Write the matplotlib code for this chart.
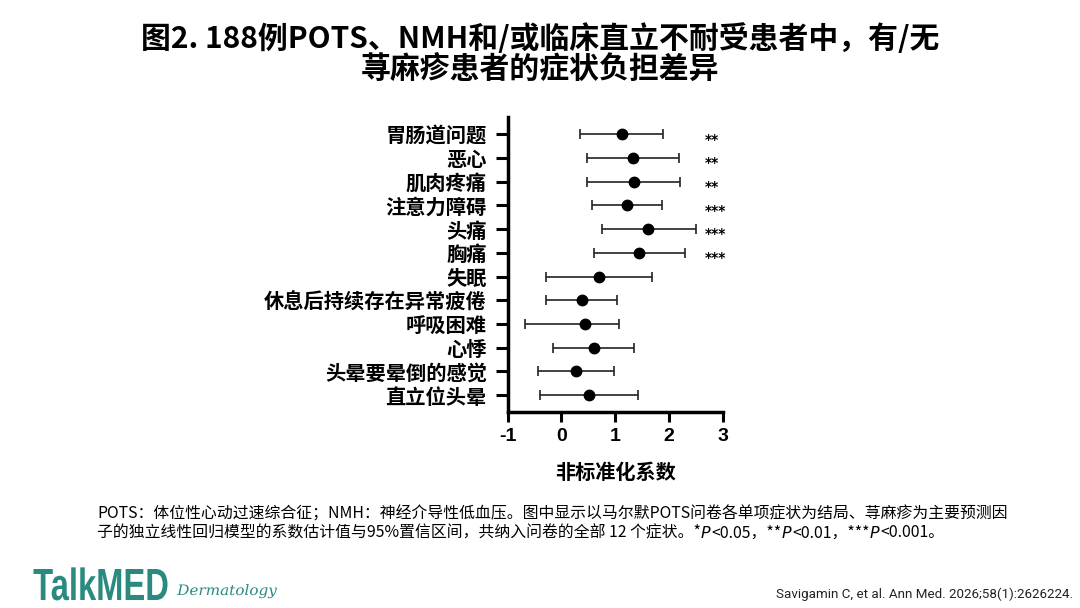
import numpy as np
import matplotlib
matplotlib.use('Agg')
import matplotlib.pyplot as plt
from matplotlib.textpath import TextPath
from matplotlib.patches import PathPatch
from matplotlib.font_manager import FontProperties
from matplotlib.transforms import Affine2D

plt.rcParams['font.family'] = ['Noto Sans CJK SC', 'DejaVu Sans']

symptoms = ['胃肠道问题', '恶心', '肌肉疼痛', '注意力障碍', '头痛', '胸痛', '失眠',
            '休息后持续存在异常疲倦', '呼吸困难', '心悸', '头晕要晕倒的感觉', '直立位头晕']
coef = [1.12, 1.33, 1.35, 1.23, 1.62, 1.45, 0.71, 0.38, 0.44, 0.61, 0.27, 0.52]
ci_low = [0.35, 0.47, 0.48, 0.58, 0.75, 0.61, -0.29, -0.28, -0.67, -0.15, -0.44, -0.39]
ci_high = [1.89, 2.19, 2.21, 1.88, 2.50, 2.30, 1.68, 1.03, 1.07, 1.36, 0.98, 1.42]
stars = ['**', '**', '**', '***', '***', '***', '', '', '', '', '', '']
xticks = [-1, 0, 1, 2, 3]

teal = '#2b8a80'
W, H = 1080, 608


def draw_word(fig, s, x0, y_base, width_px, cap_px, prop, color, cap_char):
    # draw text as a path scaled to a given width and cap height (pixels)
    tp = TextPath((0, 0), s, size=100, prop=prop)
    bb = tp.get_extents()
    cap = TextPath((0, 0), cap_char, size=100, prop=prop).get_extents()
    sx = width_px / bb.width
    sy = cap_px / cap.y1
    tr = Affine2D().translate(-bb.x0, 0).scale(sx, sy).translate(x0, H - y_base)
    fig.add_artist(PathPatch(tp, transform=tr, facecolor=color, edgecolor='none'))


fig = plt.figure(figsize=(10.8, 6.08), dpi=100)
ax = fig.add_axes([0.470, 0.3229, 0.199, 0.4847])

y = np.arange(len(symptoms))
coef = np.array(coef)
err = [coef - np.array(ci_low), np.array(ci_high) - coef]
ax.errorbar(coef, y, xerr=err, fmt='o', color='black', ecolor='#222222',
            elinewidth=1.2, capsize=3.5, capthick=1.2, markersize=7.5)

for yi, s in zip(y, stars):
    if s:
        ax.text(2.67, yi + 0.22, s, fontsize=10, fontweight='bold',
                ha='left', va='center', family='DejaVu Sans')

ax.set_xlim(-1, 3)
ax.set_ylim(11.7, -0.73)
ax.set_xticks(xticks)
ax.set_xticklabels([str(t) for t in xticks], fontsize=14, fontweight='bold',
                   family='Liberation Sans')
ax.set_yticks(y)
ax.set_yticklabels(symptoms, fontsize=14.6, fontweight='bold')
ax.tick_params(axis='x', length=7, width=2.2, pad=5)
ax.tick_params(axis='y', length=9, width=2.2, pad=6)
for side in ['top', 'right']:
    ax.spines[side].set_visible(False)
for side in ['left', 'bottom']:
    ax.spines[side].set_linewidth(2.5)
ax.set_xlabel('非标准化系数', fontsize=14.5, fontweight='bold', labelpad=12)

fig.text(0.5, 0.937, '图2. 188例POTS、NMH和/或临床直立不耐受患者中，有/无',
         ha='center', va='center', fontsize=21.5, fontweight='bold')
fig.text(0.5, 0.885, '荨麻疹患者的症状负担差异',
         ha='center', va='center', fontsize=21.5, fontweight='bold')

# footnote, second line has italic P
fn_size = 11.4
fig.text(97 / W, 1 - 514 / H,
         'POTS：体位性心动过速综合征；NMH：神经介导性低血压。图中显示以马尔默POTS问卷各单项症状为结局、荨麻疹为主要预测因',
         ha='left', va='center', fontsize=fn_size)
pieces = [('子的独立线性回归模型的系数估计值与95%置信区间，共纳入问卷的全部 12 个症状。*', False),
          ('P', True), ('<0.05，**', False), ('P', True),
          ('<0.01，***', False), ('P', True), ('<0.001。', False)]
fig.canvas.draw()
renderer = fig.canvas.get_renderer()
x0 = 97
for txt, ital in pieces:
    if ital:
        t = fig.text(x0 / W, 1 - 533 / H, txt, ha='left', va='center',
                     fontsize=fn_size, style='italic', family='DejaVu Sans')
    else:
        t = fig.text(x0 / W, 1 - 533 / H, txt, ha='left', va='center',
                     fontsize=fn_size)
    bb = t.get_window_extent(renderer=renderer)
    x0 += bb.width + (1 if ital else 0)

draw_word(fig, 'TalkMED', 33.5, 600, 134, 31,
          FontProperties(family='Liberation Sans', weight='bold'), teal, 'T')
draw_word(fig, 'Dermatology', 177, 595, 100, 10.5,
          FontProperties(family='DejaVu Serif', style='italic'), teal, 'D')
fig.text(1073 / W, 1 - 594 / H, 'Savigamin C, et al. Ann Med. 2026;58(1):2626224.',
         ha='right', va='center', fontsize=9.6, color='#222222', family='Roboto')

fig.savefig('out.png', dpi=100)
